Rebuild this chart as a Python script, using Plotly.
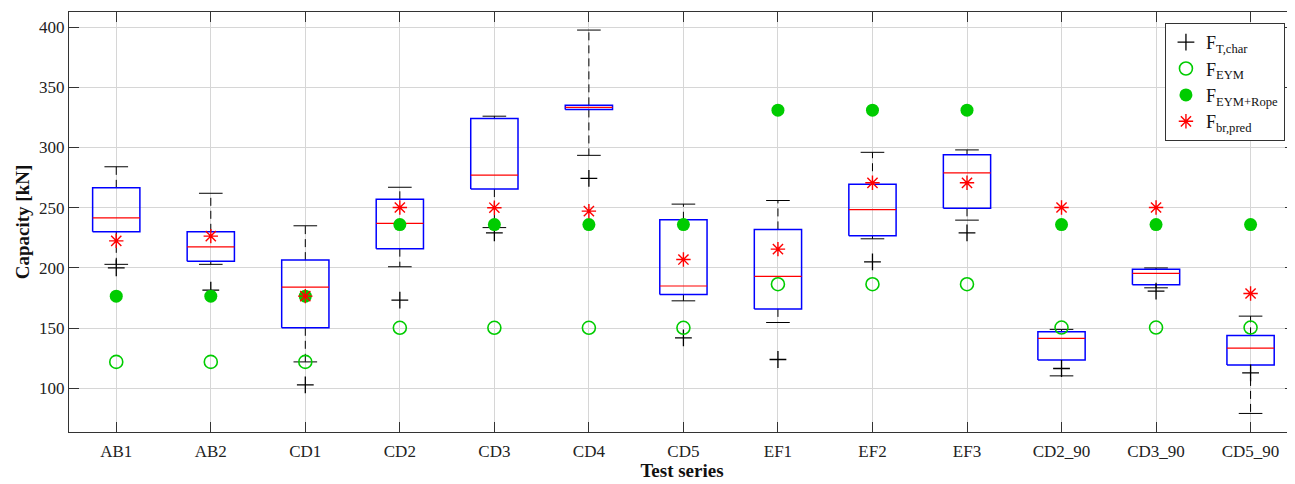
import plotly.graph_objects as go

categories = ["AB1", "AB2", "CD1", "CD2", "CD3", "CD4", "CD5", "EF1", "EF2", "EF3",
              "CD2_90", "CD3_90", "CD5_90"]
whisker_upper = [284, 262, 235, 267, 326, 397.5, 253, 256, 296, 298, 149, 200, 160]
box_q3 = [266.5, 230, 206.5, 257, 324, 335, 240, 232, 269.5, 294, 147, 199, 144]
box_median = [241.5, 217.5, 184, 237, 277, 333.3, 185, 193, 248.5, 279, 141.5, 195.5, 133.5]
box_q1 = [230, 205.5, 150.3, 216, 265.5, 331.6, 178, 166, 226.7, 249.5, 123.5, 186, 119.5]
whisker_lower = [203, 203, 122, 201, 233.5, 293.5, 172.7, 154.7, 224.2, 239.7, 110.4, 183.5, 79.2]
f_t_char = [200, 181.6, 103, 173.3, 229.2, 274.3, 142, 124, 205, 229.2, 116.5, 180.7, 112.9]
f_eym = [122, 122, 122, 150.3, 150.3, 150.3, 150.3, 186.5, 186.5, 186.5, 150.5, 150.5, 150.5]
f_eym_rope = [176.6, 176.6, 176.6, 236, 236, 236, 236, 331, 331, 331, 236, 236, 236]
f_br_pred = [222.5, 226.4, 176.6, 250.2, 250, 247.2, 207, 215.6, 270.7, 270.7, 250.2, 250.2, 178.8]
y_ticks = [100, 150, 200, 250, 300, 350, 400]

FONT = "Liberation Serif, Times New Roman, serif"
BLUE = "#0000ff"
RED = "#ff0000"
GREEN = "#00cc00"
BW = 0.25   # half box width
CW = 0.125  # half cap width

pos = list(range(1, len(categories) + 1))

fig = go.Figure()

# whiskers (dashed)
wx, wy = [], []
for p, hi, q3, q1, lo in zip(pos, whisker_upper, box_q3, box_q1, whisker_lower):
    wx += [p, p, None, p, p, None]
    wy += [q3, hi, None, q1, lo, None]
fig.add_trace(go.Scatter(x=wx, y=wy, mode="lines", showlegend=False, hoverinfo="skip",
                         line=dict(color="black", width=1, dash="8px,5px")))
# caps
cx, cy = [], []
for p, hi, lo in zip(pos, whisker_upper, whisker_lower):
    cx += [p - CW, p + CW, None, p - CW, p + CW, None]
    cy += [hi, hi, None, lo, lo, None]
fig.add_trace(go.Scatter(x=cx, y=cy, mode="lines", showlegend=False, hoverinfo="skip",
                         line=dict(color="black", width=1)))
# boxes
bx, by = [], []
for p, q3, q1 in zip(pos, box_q3, box_q1):
    bx += [p - BW, p + BW, p + BW, p - BW, p - BW, None]
    by += [q1, q1, q3, q3, q1, None]
fig.add_trace(go.Scatter(x=bx, y=by, mode="lines", showlegend=False, hoverinfo="skip",
                         line=dict(color=BLUE, width=1.5)))
# medians
mx, my = [], []
for p, m in zip(pos, box_median):
    mx += [p - BW, p + BW, None]
    my += [m, m, None]
fig.add_trace(go.Scatter(x=mx, y=my, mode="lines", showlegend=False, hoverinfo="skip",
                         line=dict(color=RED, width=1.2)))

# markers
fig.add_trace(go.Scatter(x=pos, y=f_t_char, mode="markers", name="F<sub>T,char</sub>",
                         marker=dict(symbol="cross-thin", size=12, color="black",
                                     line=dict(color="black", width=1.3))))
fig.add_trace(go.Scatter(x=pos, y=f_eym, mode="markers", name="F<sub>EYM</sub>",
                         marker=dict(symbol="circle-open", size=13, color=GREEN,
                                     line=dict(color=GREEN, width=1.6))))
fig.add_trace(go.Scatter(x=pos, y=f_eym_rope, mode="markers", name="F<sub>EYM+Rope</sub>",
                         marker=dict(symbol="circle", size=13, color=GREEN,
                                     line=dict(width=0))))
fig.add_trace(go.Scatter(x=pos, y=f_br_pred, mode="markers", name="F<sub>br,pred</sub>",
                         marker=dict(symbol="asterisk-open", size=12, color=RED,
                                     line=dict(color=RED, width=1.4))))

axis_common = dict(showline=True, linecolor="#333333", linewidth=1.2, mirror="ticks",
                   ticks="inside", ticklen=10, tickcolor="#333333", tickwidth=1,
                   showgrid=True, gridcolor="#d6d6d6", gridwidth=1, zeroline=False,
                   tickfont=dict(family=FONT, size=17, color="#222222"))

# page body has an 8px default margin: compensate so the plot area lands where the reference has it
fig.update_layout(
    width=1287, height=476,
    margin=dict(l=61, r=0, t=4, b=52),
    paper_bgcolor="white", plot_bgcolor="white",
    xaxis=dict(range=[0.5, 13.47], tickvals=pos, ticktext=categories, ticklabelstandoff=3,
               title=dict(text="<b>Test series</b>", font=dict(family=FONT, size=19, color="#111111"),
                          standoff=1),
               **axis_common),
    yaxis=dict(range=[63.8, 412.5], tickvals=y_ticks,
               title=dict(text="<b>Capacity [kN]</b>", font=dict(family=FONT, size=19, color="#111111"),
                          standoff=4),
               **axis_common),
    legend=dict(x=0.9918, y=0.974, xanchor="right", yanchor="top",
                bgcolor="white", bordercolor="#333333", borderwidth=1,
                font=dict(family=FONT, size=18, color="#111111"),
                tracegroupgap=0, itemwidth=30),
    showlegend=True,
)

fig.write_html("out.html")
